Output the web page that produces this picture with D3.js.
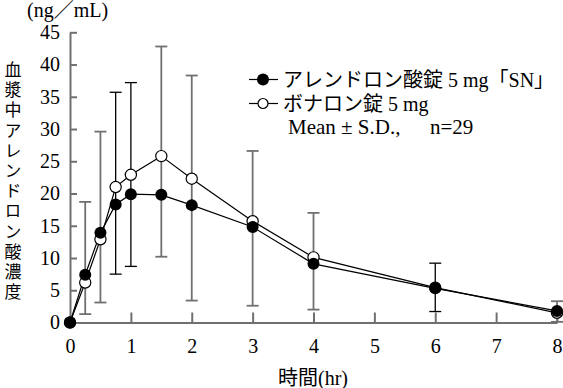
<!DOCTYPE html>
<html>
<head>
<meta charset="utf-8">
<script src="https://cdn.jsdelivr.net/npm/d3@7"></script>
<style>
  body { margin: 0; background: #fff; }
  svg { display: block; }
</style>
</head>
<body>
<div id="chart"></div>
<script>
// time points (hr)
const times = [0, 0.25, 0.5, 0.75, 1, 1.5, 2, 3, 4, 6, 8];
// アレンドロン酸錠5mg「SN」 mean
const snMean = [0, 7.4, 13.9, 18.3, 19.9, 19.8, 18.2, 14.8, 9.1, 5.3, 1.8];
// ボナロン錠5mg mean
const bonMean = [0, 6.2, 12.9, 21.0, 22.9, 25.8, 22.3, 15.7, 10.1, 5.4, 1.5];
// error bar ends (S.D.)
const barHigh = [null, 18.7, 29.6, 35.7, 37.2, 42.8, 38.3, 26.6, 17.0, 9.2, 3.3];
const barLow = [null, 1.3, 3.1, 7.5, 8.7, 10.2, 3.4, 2.6, 2.0, 1.7, 0.1];
const barSeries = ["", "bon", "bon", "sn", "sn", "bon", "bon", "bon", "bon", "sn", "bon"];

const xTicks = [0, 1, 2, 3, 4, 5, 6, 7, 8];
const yTicks = [0, 5, 10, 15, 20, 25, 30, 35, 40, 45];
const legendLabels = ["アレンドロン酸錠 5 mg「SN」", "ボナロン錠 5 mg"];
const noteLabels = ["Mean ± S.D.,", "n=29"];

const width = 563, height = 388;
const gray = "#707070";
const serif = "'Liberation Serif', 'Noto Sans CJK JP', serif";
const cjk = "'Noto Sans CJK JP', sans-serif";

const svg = d3.select("#chart").append("svg")
    .attr("width", width)
    .attr("height", height);

const x = d3.scaleLinear().domain([0, 8]).range([70, 557]);
const y = d3.scaleLinear().domain([0, 45]).range([322.5, 32.3]);

// axes
const yAxis = svg.append("g")
    .attr("transform", `translate(${x(0)},0)`)
    .call(d3.axisLeft(y).tickValues(yTicks).tickSizeInner(-7).tickSizeOuter(0).tickPadding(10));
const xAxis = svg.append("g")
    .attr("transform", `translate(0,${y(0)})`)
    .call(d3.axisBottom(x).tickValues(xTicks).tickSizeInner(-10).tickSizeOuter(0).tickPadding(16));

[xAxis, yAxis].forEach(g => {
    g.select(".domain").attr("stroke", gray).attr("stroke-width", 2);
    g.selectAll(".tick line").attr("stroke", gray).attr("stroke-width", 2);
    g.selectAll(".tick text")
        .attr("fill", "#000")
        .style("font-family", serif)
        .style("font-size", "20px");
});
xAxis.selectAll(".tick").filter(d => d === 0).select("line").remove();

// error bars
const bars = times.map((t, i) => ({ t, hi: barHigh[i], lo: barLow[i], s: barSeries[i] }))
    .filter(d => d.hi !== null);
// gray ones first, black on top
bars.sort((a, b) => (a.s === "sn") - (b.s === "sn"));
const eb = svg.append("g").selectAll("g").data(bars).enter().append("g")
    .attr("stroke", d => d.s === "sn" ? "#000" : gray)
    .attr("stroke-width", d => d.s === "sn" ? 1.3 : 1.8);
eb.append("line")
    .attr("x1", d => x(d.t)).attr("x2", d => x(d.t))
    .attr("y1", d => y(d.hi)).attr("y2", d => y(d.lo));
eb.append("line")
    .attr("x1", d => x(d.t) - 6).attr("x2", d => x(d.t) + 6)
    .attr("y1", d => y(d.hi)).attr("y2", d => y(d.hi));
eb.append("line")
    .attr("x1", d => x(d.t) - 6).attr("x2", d => x(d.t) + 6)
    .attr("y1", d => y(d.lo)).attr("y2", d => y(d.lo));

// lines
const line = d3.line().x(d => x(d[0])).y(d => y(d[1]));
const bonPts = times.map((t, i) => [t, bonMean[i]]);
const snPts = times.map((t, i) => [t, snMean[i]]);
svg.append("path").datum(bonPts).attr("d", line)
    .attr("fill", "none").attr("stroke", "#000").attr("stroke-width", 1.2);
svg.append("path").datum(snPts).attr("d", line)
    .attr("fill", "none").attr("stroke", "#000").attr("stroke-width", 1.2);

// markers
svg.append("g").selectAll("circle").data(bonPts).enter().append("circle")
    .attr("cx", d => x(d[0])).attr("cy", d => y(d[1])).attr("r", 5.6)
    .attr("fill", "#fff").attr("stroke", "#000").attr("stroke-width", 1.2);
svg.append("g").selectAll("circle").data(snPts).enter().append("circle")
    .attr("cx", d => x(d[0])).attr("cy", d => y(d[1])).attr("r", 6)
    .attr("fill", "#000");

// unit label
svg.append("text")
    .attr("x", 27).attr("y", 17)
    .style("font-family", serif).style("font-size", "20px")
    .text("(ng／mL)");

// vertical y label
svg.append("text")
    .attr("x", 13).attr("y", 61)
    .style("writing-mode", "vertical-rl")
    .style("font-family", cjk).style("font-size", "17px")
    .style("letter-spacing", "3.2px")
    .text("血漿中アレンドロン酸濃度");

// x label
svg.append("text")
    .attr("x", 313).attr("y", 385)
    .attr("text-anchor", "middle")
    .style("font-family", serif).style("font-size", "20px")
    .text("時間(hr)");

// legend
const legend = svg.append("g");
const lg = legend.selectAll("g").data(legendLabels).enter().append("g")
    .attr("transform", (d, i) => `translate(0,${79.5 + i * 24})`);
lg.append("line")
    .attr("x1", 249).attr("x2", 278).attr("stroke", "#000").attr("stroke-width", 1.2);
lg.filter((d, i) => i === 0).append("circle")
    .attr("cx", 263).attr("r", 6).attr("fill", "#000");
lg.filter((d, i) => i === 1).append("circle")
    .attr("cx", 263).attr("r", 5).attr("fill", "#fff").attr("stroke", "#000").attr("stroke-width", 1.2);
lg.append("text")
    .attr("x", 283).attr("y", 7)
    .style("font-family", serif).style("font-size", "20px")
    .text(d => d);

const note = legend.append("text")
    .attr("y", 134)
    .style("font-family", serif).style("font-size", "21px");
note.append("tspan").attr("x", 288).text(noteLabels[0]);
note.append("tspan").attr("x", 430).text(noteLabels[1]);
</script>
</body>
</html>
